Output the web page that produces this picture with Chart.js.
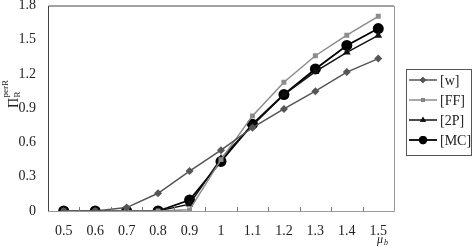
<!DOCTYPE html>
<html>
<head>
<meta charset="utf-8">
<script src="https://cdn.jsdelivr.net/npm/chart.js@4.4.0/dist/chart.umd.min.js"></script>
<style>
  html, body { margin: 0; padding: 0; background: #fff; }
  #wrap { width: 473px; height: 247px; position: relative; }
</style>
</head>
<body>
<div id="wrap"><canvas id="lineChart" width="473" height="247"></canvas></div>
<script>
// values
const muLabels = ['0.5', '0.6', '0.7', '0.8', '0.9', '1', '1.1', '1.2', '1.3', '1.4', '1.5'];
const wValues  = [0, 0, 0.03, 0.155, 0.35, 0.533, 0.73, 0.894, 1.05, 1.217, 1.335];
const ffValues = [0, 0, 0, 0, 0.01, 0.45, 0.833, 1.128, 1.36, 1.54, 1.705];
const tpValues = [0, 0, 0, 0, 0.06, 0.46, 0.75, 1.02, 1.22, 1.39, 1.538];
const mcValues = [0, 0, 0, 0, 0.096, 0.434, 0.76, 1.02, 1.244, 1.45, 1.598];
const yTickLabels = ['0', '0.3', '0.6', '0.9', '1.2', '1.5', '1.8'];
const seriesNames = ['[w]', '[FF]', '[2P]', '[MC]'];

const serif = "'Liberation Serif', 'Times New Roman', Times, serif";

function makeSet(name, values, color, style, radius, width) {
	return {
		label: name,
		data: values,
		borderColor: color,
		backgroundColor: color,
		pointBackgroundColor: color,
		pointBorderColor: color,
		pointStyle: style,
		pointRadius: radius,
		pointBorderWidth: 0,
		borderWidth: width,
		tension: 0
	};
}

// frame, inner tick marks, axis titles and legend box
const extras = {
	id: 'extras',
	afterDraw(chart) {
		const ctx = chart.ctx;
		const a = chart.chartArea;
		const xs = chart.scales.x;
		ctx.save();

		// plot frame
		ctx.lineWidth = 1;
		ctx.strokeStyle = '#999';
		ctx.beginPath();
		ctx.moveTo(a.right + 0.5, a.top + 0.5);
		ctx.lineTo(a.right + 0.5, a.bottom + 0.5);
		ctx.lineTo(a.left, a.bottom + 0.5);
		ctx.stroke();
		ctx.strokeStyle = '#444';
		ctx.beginPath();
		ctx.moveTo(a.left + 0.5, a.bottom);
		ctx.lineTo(a.left + 0.5, a.top + 0.5);
		ctx.lineTo(a.right, a.top + 0.5);
		ctx.stroke();

		// x tick marks between categories, pointing up
		const half = (xs.getPixelForTick(1) - xs.getPixelForTick(0)) / 2;
		ctx.strokeStyle = '#777';
		ctx.beginPath();
		for (let i = 0; i < muLabels.length - 1; i++) {
			const px = Math.round(xs.getPixelForTick(i) + half) + 0.5;
			ctx.moveTo(px, a.bottom);
			ctx.lineTo(px, a.bottom - 4);
		}
		ctx.stroke();

		// y title: Pi_R^perR, rotated
		ctx.fillStyle = '#222';
		ctx.translate(18, 108);
		ctx.rotate(-Math.PI / 2);
		ctx.textBaseline = 'alphabetic';
		ctx.textAlign = 'left';
		ctx.font = '14px ' + serif;
		ctx.fillText('\u03A0', 0, 0);
		const pw = ctx.measureText('\u03A0').width;
		ctx.font = '9px ' + serif;
		ctx.fillText('R', pw + 0.5, 2);
		ctx.fillText('perR', pw + 0.5, -10);
		ctx.setTransform(1, 0, 0, 1, 0, 0);

		// x title
		ctx.font = 'italic 12px ' + serif;
		ctx.textAlign = 'left';
		ctx.fillText('\u03BC', 377, 243);
		ctx.font = 'italic 8px ' + serif;
		ctx.fillText('b', 384, 245);

		// legend box
		const lx = 406, ly = 69, lw = 65, lh = 86;
		ctx.strokeStyle = '#555';
		ctx.lineWidth = 1;
		ctx.strokeRect(lx + 0.5, ly + 0.5, lw, lh);
		ctx.font = '14px ' + serif;
		ctx.textBaseline = 'middle';
		chart.data.datasets.forEach((ds, i) => {
			const cy = ly + 11 + i * 20;
			ctx.strokeStyle = ds.borderColor;
			ctx.lineWidth = ds.borderWidth;
			ctx.beginPath();
			ctx.moveTo(lx + 3, cy);
			ctx.lineTo(lx + 31, cy);
			ctx.stroke();
			Chart.helpers.drawPoint(ctx, {
				pointStyle: ds.pointStyle,
				radius: ds.pointRadius * 0.75,
				rotation: 0,
				borderWidth: 0
			}, lx + 17, cy);
			ctx.fillStyle = ds.borderColor;
			ctx.fill();
			ctx.fillStyle = '#222';
			ctx.fillText(ds.label, lx + 34, cy + 1);
		});
		ctx.restore();
	}
};

const data = {
	labels: muLabels,
	datasets: [
		makeSet(seriesNames[0], wValues, '#555555', 'rectRot', 4, 1.5),
		makeSet(seriesNames[1], ffValues, '#8c8c8c', 'rect', 3.5, 1.5),
		makeSet(seriesNames[2], tpValues, '#111111', 'triangle', 4.5, 1.5),
		makeSet(seriesNames[3], mcValues, '#000000', 'circle', 5.5, 1.8)
	]
};

const config = {
	type: 'line',
	data,
	options: {
		responsive: false,
		animation: false,
		layout: {
			padding: { left: 0, right: 79, top: 5, bottom: 0 }
		},
		plugins: {
			legend: { display: false },
			tooltip: { enabled: false }
		},
		scales: {
			x: {
				type: 'category',
				offset: true,
				grid: { display: false },
				border: { display: false },
				ticks: {
					color: '#222',
					font: { family: serif, size: 14 },
					padding: 4,
					maxRotation: 0,
					autoSkip: false
				},
				afterFit(scale) {
					scale.height = 36;
					scale.paddingLeft = 0;
					scale.paddingRight = 0;
				}
			},
			y: {
				min: 0,
				max: 1.8,
				grid: { display: false },
				border: { display: false },
				ticks: {
					stepSize: 0.3,
					color: '#222',
					font: { family: serif, size: 14 },
					padding: 4,
					callback: (v, i) => yTickLabels[i]
				},
				afterFit(scale) {
					scale.width = 48;
					scale.paddingTop = 0;
					scale.paddingBottom = 0;
				}
			}
		}
	},
	plugins: [extras]
};

const myChart = new Chart(document.getElementById('lineChart'), config);
</script>
</body>
</html>
